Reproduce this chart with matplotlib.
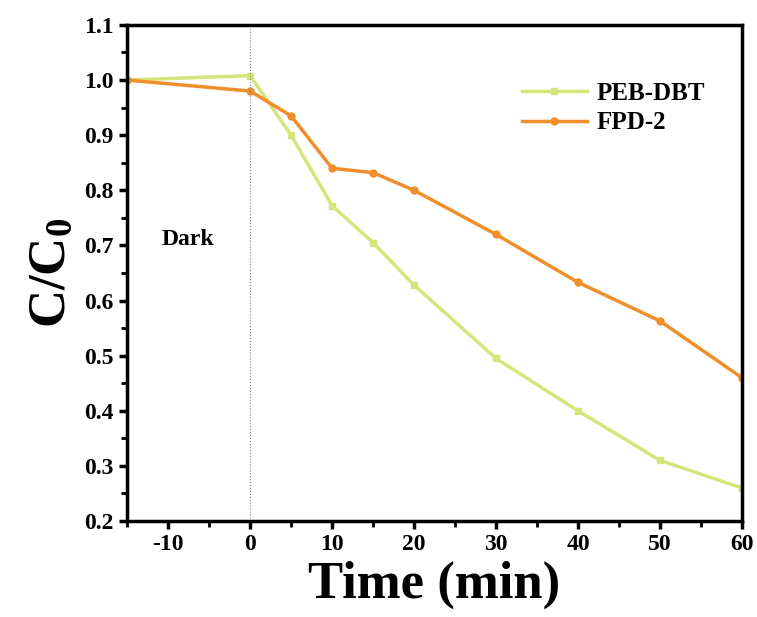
import matplotlib.pyplot as plt
from matplotlib.ticker import MultipleLocator

plt.rcParams['font.family'] = ['Liberation Serif', 'DejaVu Serif']
plt.rcParams['font.weight'] = 'bold'
plt.rcParams['axes.unicode_minus'] = False
plt.rcParams['mathtext.fontset'] = 'custom'
plt.rcParams['mathtext.rm'] = 'Liberation Serif:bold'
plt.rcParams['mathtext.bf'] = 'Liberation Serif:bold'
plt.rcParams['mathtext.it'] = 'Liberation Serif:bold'

# дані
time = [-15, 0, 5, 10, 15, 20, 30, 40, 50, 60]
peb_dbt = [1.0, 1.008, 0.90, 0.772, 0.705, 0.628, 0.495, 0.40, 0.31, 0.26]
fpd_2 = [1.0, 0.98, 0.935, 0.84, 0.832, 0.80, 0.72, 0.633, 0.563, 0.46]

fig = plt.figure(figsize=(7.57, 6.17), dpi=100)
ax = fig.add_axes([0.168, 0.1556, 0.812, 0.804])

ax.plot(time, peb_dbt, color='#d3e67c', lw=2.5, marker='s', ms=5, label='PEB-DBT')
ax.plot(time, fpd_2, color='#ef8f2b', lw=2.5, marker='o', ms=5, label='FPD-2')
ax.axvline(0, color='gray', lw=0.8, ls=':')

ax.set_xlim(-15, 60)
ax.set_ylim(0.2, 1.1)
ax.xaxis.set_major_locator(MultipleLocator(10))
ax.xaxis.set_minor_locator(MultipleLocator(5))
ax.yaxis.set_major_locator(MultipleLocator(0.1))
ax.yaxis.set_minor_locator(MultipleLocator(0.05))
ax.set_xticks([-10, 0, 10, 20, 30, 40, 50, 60])
ax.yaxis.set_major_formatter(plt.FuncFormatter(lambda v, p: f'{v:.1f}'))

for s in ax.spines.values():
    s.set_linewidth(2.5)
ax.tick_params(which='major', direction='out', length=6, width=2.5, labelsize=17)
ax.tick_params(which='minor', direction='out', length=4, width=2)

ax.text(-10.8, 0.71, 'Dark', fontsize=17, fontweight='bold', va='center')
ax.set_xlabel('Time (min)', fontsize=38, fontweight='bold', labelpad=4)
ax.set_ylabel('C/C$_\\mathrm{0}$', fontsize=38, fontweight='bold', labelpad=6)

ax.legend(loc='upper right', bbox_to_anchor=(0.977, 0.93), frameon=False,
          prop={'size': 18, 'weight': 'bold'}, handlelength=2.6,
          labelspacing=0.25, handletextpad=0.4, numpoints=1)

fig.savefig('out.png', dpi=100)
